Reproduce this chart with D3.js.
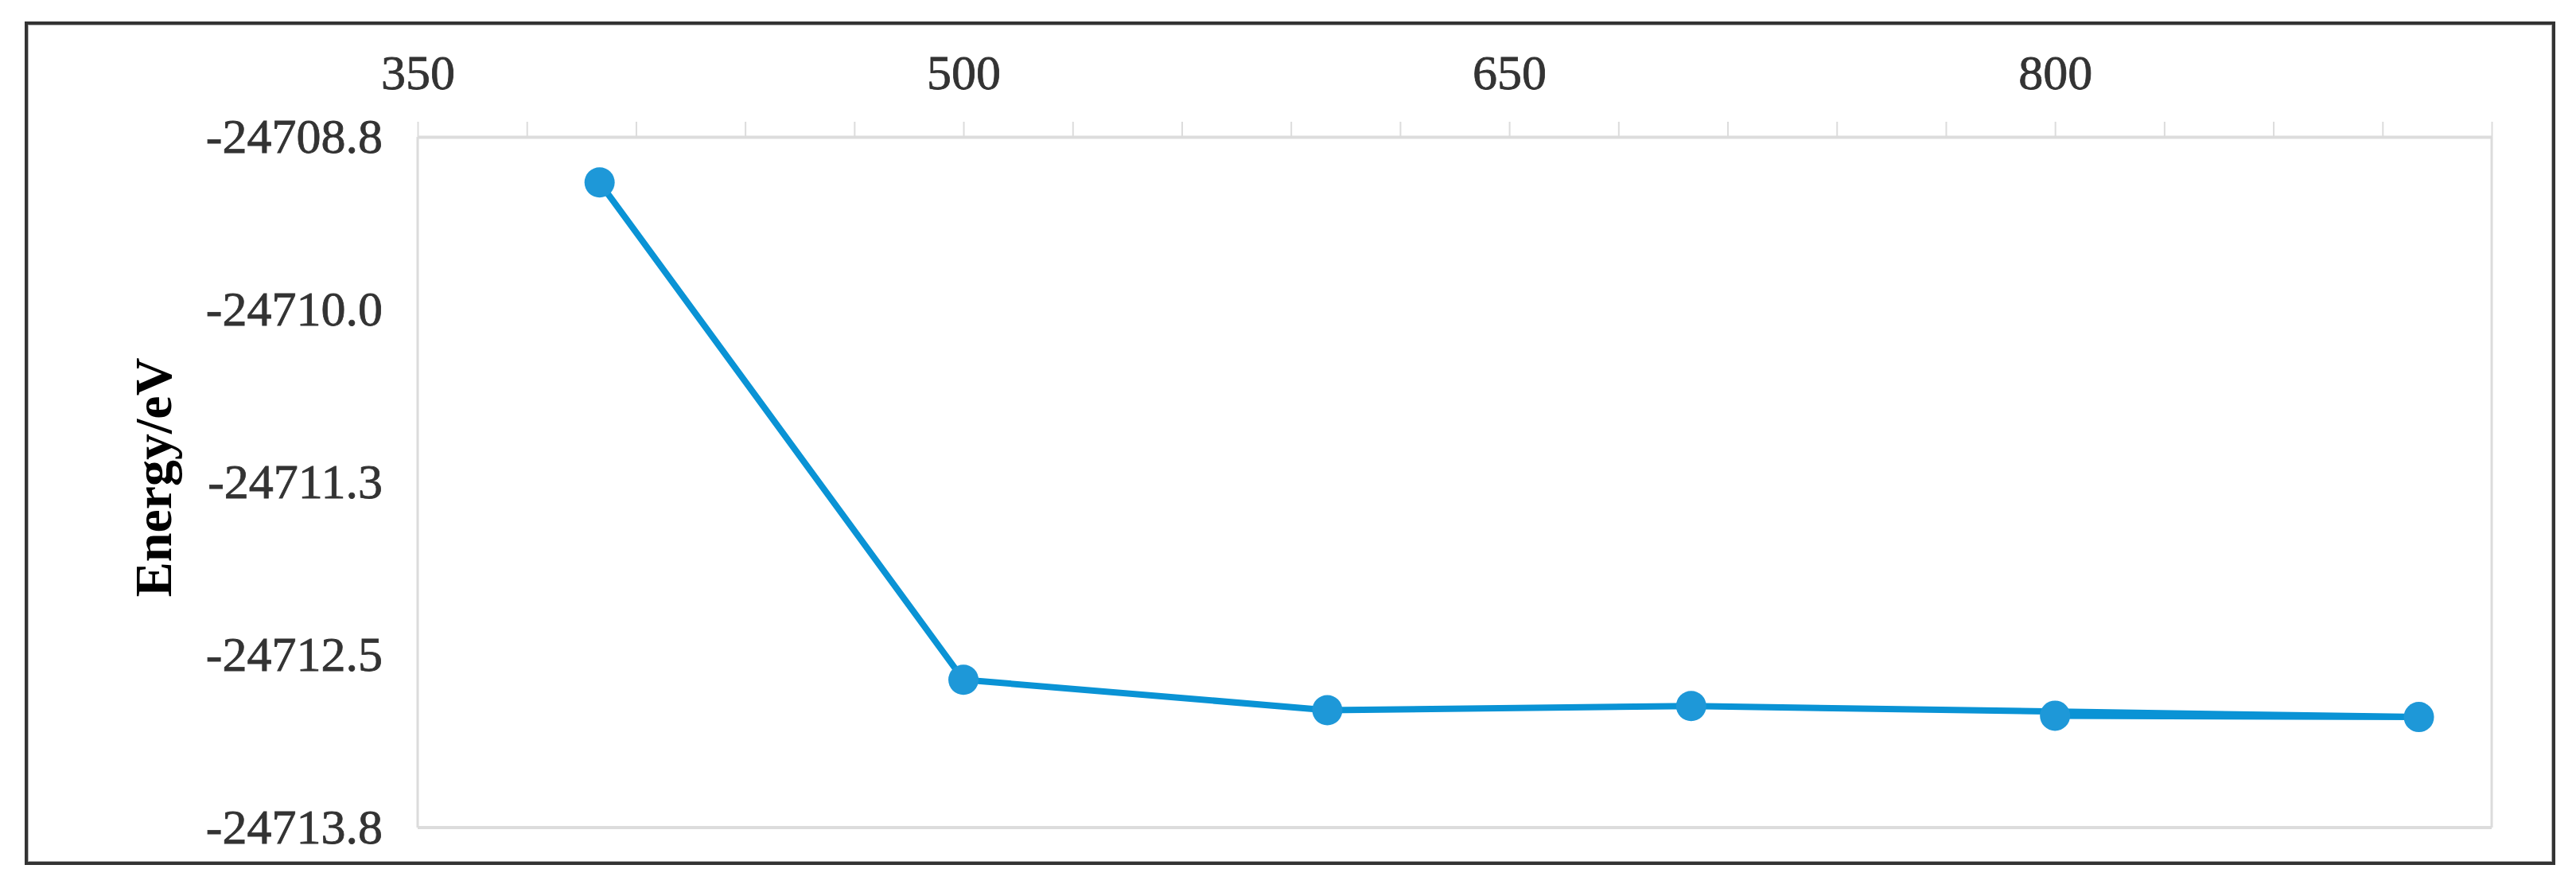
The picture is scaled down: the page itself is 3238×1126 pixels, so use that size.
<!DOCTYPE html>
<html>
<head>
<meta charset="utf-8">
<script src="https://cdn.jsdelivr.net/npm/d3@7"></script>
<style>
  html, body { margin: 0; padding: 0; background: #fff; }
  svg { display: block; }
</style>
</head>
<body>
<svg id="chart" width="3238" height="1126"></svg>
<script>
// Data (plotted in the original series order)
const sizes = [400, 500, 600, 700, 900, 800];
const energies = [-24709.08, -24712.68, -24712.90, -24712.87, -24712.95, -24712.94];
const xTickLabels = [350, 500, 650, 800];
const xMinorTicks = d3.range(350, 921, 30);
const yTicks = [-24713.75, -24712.5, -24711.25, -24710.0, -24708.75];
const yTitle = "Energy/eV";

const svg = d3.select("#chart");
const W = 3238, H = 1126;
const plot = { left: 525, right: 3132, top: 172, bottom: 1040 };

svg.append("rect").attr("width", W).attr("height", H).attr("fill", "#fff");

// outer frame
svg.append("rect")
  .attr("x", 35).attr("y", 31).attr("width", 3173).attr("height", 1052)
  .attr("fill", "none").attr("stroke", "#b0b0b0").attr("stroke-width", 2);
svg.append("rect")
  .attr("x", 33).attr("y", 29).attr("width", 3177).attr("height", 1056)
  .attr("fill", "none").attr("stroke", "#333").attr("stroke-width", 4);

const x = d3.scaleLinear().domain([350, 920]).range([plot.left, plot.right]);
const y = d3.scaleLinear().domain([-24713.75, -24708.75]).range([plot.bottom, plot.top]);

const grid = "#dcdcdc";
// plot area border
svg.append("line").attr("x1", plot.left).attr("x2", plot.left).attr("y1", plot.top).attr("y2", plot.bottom)
  .attr("stroke", grid).attr("stroke-width", 3);
svg.append("line").attr("x1", plot.right).attr("x2", plot.right).attr("y1", plot.top).attr("y2", plot.bottom)
  .attr("stroke", grid).attr("stroke-width", 3);
svg.append("line").attr("x1", plot.left).attr("x2", plot.right).attr("y1", plot.bottom).attr("y2", plot.bottom)
  .attr("stroke", grid).attr("stroke-width", 4);

// top axis: minor ticks
const xMinor = svg.append("g").attr("transform", `translate(0,${plot.top})`)
  .call(d3.axisTop(x).tickValues(xMinorTicks).tickSize(19).tickFormat("").tickSizeOuter(0));
xMinor.select(".domain").attr("stroke", grid).attr("stroke-width", 4);
xMinor.selectAll(".tick line").attr("stroke", grid).attr("stroke-width", 2);

// top axis: labels
const xLab = svg.append("g").attr("transform", `translate(0,${plot.top})`)
  .call(d3.axisTop(x).tickValues(xTickLabels).tickSize(0).tickPadding(60).tickFormat(d => String(d)));
xLab.select(".domain").remove();
xLab.selectAll("text")
  .attr("font-family", "'Liberation Serif', 'Times New Roman', serif")
  .attr("font-size", 62).attr("fill", "#333")
  .attr("stroke", "#333").attr("stroke-width", 0.8);

// left axis labels
const yAx = svg.append("g").attr("transform", `translate(${plot.left},0)`)
  .call(d3.axisLeft(y).tickValues(yTicks).tickSize(0).tickPadding(44).tickFormat(d => d.toFixed(1)));
yAx.select(".domain").remove();
yAx.selectAll("text")
  .attr("font-family", "'Liberation Serif', 'Times New Roman', serif")
  .attr("font-size", 62).attr("fill", "#333")
  .attr("stroke", "#333").attr("stroke-width", 0.8);

// y title
svg.append("text")
  .attr("transform", `translate(215,${(plot.top + plot.bottom) / 2 - 6}) rotate(-90)`)
  .attr("text-anchor", "middle")
  .attr("font-family", "'Liberation Serif', 'Times New Roman', serif")
  .attr("font-weight", "bold").attr("font-size", 66).attr("fill", "#000")
  .text(yTitle);

// series
const pts = sizes.map((s, i) => ({ s, e: energies[i] }));
const line = d3.line().x(d => x(d.s)).y(d => y(d.e));
svg.append("path").datum(pts)
  .attr("d", line).attr("fill", "none")
  .attr("stroke", "#0a93d5").attr("stroke-width", 8)
  .attr("stroke-linejoin", "round").attr("stroke-linecap", "round");

svg.append("g").selectAll("circle").data(pts).join("circle")
  .attr("cx", d => x(d.s)).attr("cy", d => y(d.e)).attr("r", 19)
  .attr("fill", "#1e98d8");
</script>
</body>
</html>
